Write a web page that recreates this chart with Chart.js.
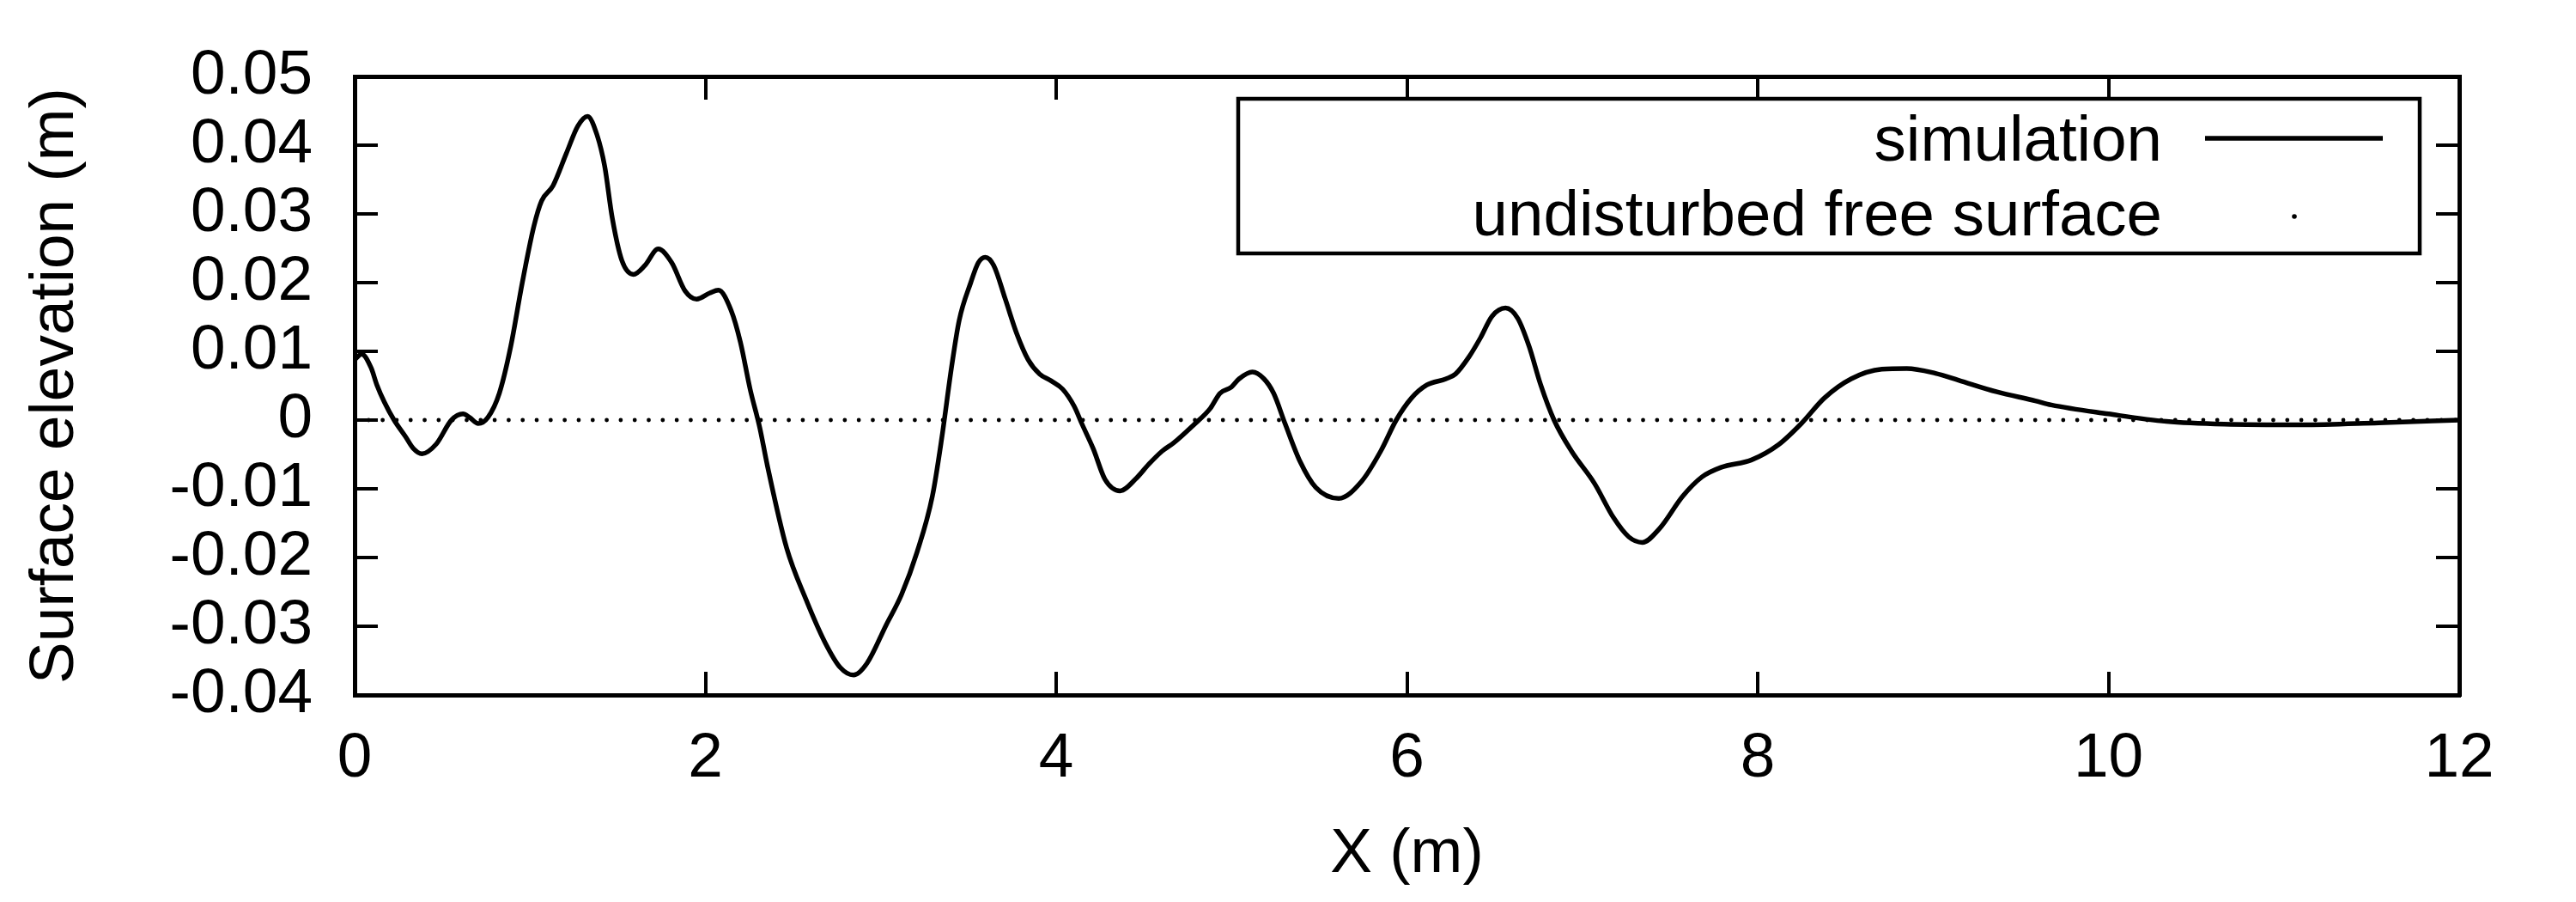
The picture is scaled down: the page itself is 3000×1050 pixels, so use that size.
<!DOCTYPE html>
<html>
<head>
<meta charset="utf-8">
<title>Surface elevation</title>
<script src="https://cdn.jsdelivr.net/npm/chart.js@4.4.1/dist/chart.umd.min.js"></script>
<style>
  html, body { margin: 0; padding: 0; background: #fff; }
  #fig { display: block; }
</style>
</head>
<body>
<canvas id="fig" width="3000" height="1050"></canvas>
<script>
// ----- data -----
const simX = [
  0, 0.04, 0.094, 0.127, 0.17, 0.225, 0.29, 0.334, 0.384, 0.465,
  0.552, 0.618, 0.655, 0.705, 0.76, 0.825, 0.89, 0.956, 1.022, 1.066,
  1.131, 1.207, 1.273, 1.328, 1.382, 1.426, 1.469, 1.524, 1.59, 1.655,
  1.731, 1.808, 1.884, 1.95, 2.026, 2.074, 2.146, 2.2, 2.255, 2.31,
  2.354, 2.463, 2.572, 2.681, 2.769, 2.845, 2.921, 3.031, 3.118, 3.207,
  3.294, 3.349, 3.403, 3.447, 3.513, 3.556, 3.596, 3.644, 3.71, 3.775,
  3.84, 3.906, 3.972, 4.037, 4.103, 4.146, 4.212, 4.278, 4.365, 4.452,
  4.529, 4.605, 4.671, 4.78, 4.879, 4.934, 4.999, 5.043, 5.119, 5.185,
  5.24, 5.305, 5.392, 5.48, 5.611, 5.742, 5.851, 5.939, 6.026, 6.113,
  6.223, 6.277, 6.354, 6.42, 6.485, 6.562, 6.632, 6.697, 6.763, 6.839,
  6.938, 7.069, 7.178, 7.265, 7.342, 7.44, 7.572, 7.681, 7.79, 7.965,
  8.118, 8.249, 8.38, 8.533, 8.708, 8.85, 9.014, 9.145, 9.364, 9.583,
  9.674, 10.0, 10.33, 10.66, 11.1, 11.54, 12
];
const simY = [
  0.0088, 0.0096, 0.0076, 0.0051, 0.0026, 0, -0.0024, -0.0041, -0.0049, -0.0035,
  0, 0.0009, 0.0004, -0.0005, 0.0004, 0.0039, 0.0107, 0.020, 0.0282, 0.0319,
  0.0341, 0.0388, 0.0428, 0.0442, 0.0415, 0.0369, 0.0294, 0.0232, 0.0212, 0.0225,
  0.0249, 0.0229, 0.0188, 0.0176, 0.0185, 0.0189, 0.016, 0.0113, 0.0045, -0.0011,
  -0.0067, -0.0186, -0.026, -0.0323, -0.036, -0.0371, -0.0354, -0.0298, -0.0254, -0.0192,
  -0.0111, -0.0024, 0.0076, 0.0145, 0.020, 0.0229, 0.0237, 0.0225, 0.0176, 0.0126,
  0.0088, 0.0067, 0.0057, 0.0045, 0.002, -0.0005, -0.0042, -0.0086, -0.0103, -0.0086,
  -0.0064, -0.0045, -0.0033, -0.0008, 0.0017, 0.0039, 0.0048, 0.006, 0.007, 0.006,
  0.0039, -0.0005, -0.0061, -0.0098, -0.0114, -0.0089, -0.0045, 0, 0.0032, 0.0051,
  0.006, 0.0067, 0.0092, 0.012, 0.0151, 0.0163, 0.0148, 0.0107, 0.0051, 0,
  -0.0045, -0.0092, -0.0142, -0.017, -0.0178, -0.0158, -0.0111, -0.0083, -0.0069, -0.0058,
  -0.0036, -0.0005, 0.0032, 0.006, 0.0074, 0.0075, 0.0068, 0.0058, 0.0041, 0.0028,
  0.0022, 0.0009, -0.0002, -0.0006, -0.0007, -0.0004, 0
];
// undisturbed free surface: flat at zero across the tank
const freeX = [0, 12];
const freeY = [0, 0];

const seriesNames = ['simulation', 'undisturbed free surface'];
const xTicks = [0, 2, 4, 6, 8, 10, 12];
const yTicks = [-0.04, -0.03, -0.02, -0.01, 0, 0.01, 0.02, 0.03, 0.04, 0.05];

const toPts = (xs, ys) => xs.map((x, i) => ({ x, y: ys[i] }));

// ----- style -----
const FONT = 'Liberation Sans, Arial, Helvetica, sans-serif';
const FS = 73;
const KEY_FS = 74.5;
Chart.defaults.font.family = FONT;
Chart.defaults.font.size = FS;
Chart.defaults.color = '#000';

const AX_W = 5;      // frame line width
const TICK_W = 4;    // tick mark width
const TICK = -27;    // negative = ticks point into the plot (gnuplot style)

// gnuplot-like key: text right aligned, sample to its right, boxed
const keyPlugin = {
  id: 'gnuKey',
  afterDatasetsDraw(chart){
    const ctx = chart.ctx;
    const ds = chart.data.datasets;
    ctx.save();
    ctx.strokeStyle = '#000';
    ctx.lineWidth = 4.5;
    ctx.strokeRect(1442, 115, 1376, 180);

    ctx.fillStyle = '#000';
    ctx.font = `${KEY_FS}px ${FONT}`;
    ctx.textAlign = 'right';
    ctx.textBaseline = 'alphabetic';
    ctx.fillText(ds[0].label, 2518, 187);
    ctx.fillText(ds[1].label, 2518, 274);

    // sample: solid line
    ctx.lineWidth = ds[0].borderWidth;
    ctx.beginPath();
    ctx.moveTo(2568, 161);
    ctx.lineTo(2775, 161);
    ctx.stroke();

    // sample: single dot
    ctx.beginPath();
    ctx.arc(2672, 252, 2.8, 0, Math.PI * 2);
    ctx.fill();
    ctx.restore();
  }
};

const fmt = v => String(Math.round(v * 100) / 100);

// keep label overhang from pushing the plot frame around
function fixSize(prop, size){
  return s => {
    s[prop] = size;
    s.paddingTop = 0; s.paddingBottom = 0;
    s.paddingLeft = 0; s.paddingRight = 0;
  };
}

const gridOpts = { drawOnChartArea: false, drawTicks: true, tickLength: TICK, color: '#000', lineWidth: TICK_W };
const borderOpts = { display: true, color: '#000', width: AX_W };

const chart = new Chart(document.getElementById('fig'), {
  type: 'line',
  data: {
    datasets: [
      {
        label: seriesNames[0],
        data: toPts(simX, simY),
        borderColor: '#000',
        borderWidth: 5.5,
        pointRadius: 0,
        cubicInterpolationMode: 'monotone',
        fill: false
      },
      {
        label: seriesNames[1],
        data: toPts(freeX, freeY),
        borderColor: '#000',
        borderWidth: 4.8,
        borderDash: [0.01, 16.3],
        borderCapStyle: 'round',
        pointRadius: 0,
        tension: 0,
        fill: false
      }
    ]
  },
  options: {
    responsive: false,
    animation: false,
    devicePixelRatio: 1,
    layout: { padding: { top: 89, right: 136, bottom: 0, left: 0 } },
    plugins: {
      legend: { display: false },
      tooltip: { enabled: false }
    },
    scales: {
      x: {
        type: 'linear',
        position: 'bottom',
        min: 0, max: 12,
        afterBuildTicks: s => { s.ticks = xTicks.map(v => ({ value: v })); },
        afterFit: fixSize('height', 241),
        ticks: { padding: 58, maxRotation: 0, autoSkip: false, callback: v => fmt(v) },
        grid: gridOpts,
        border: borderOpts,
        title: { display: true, text: 'X (m)', padding: { top: 0, bottom: 11 }, font: { size: FS } }
      },
      x2: {
        type: 'linear',
        position: 'top',
        display: true,
        min: 0, max: 12,
        afterBuildTicks: s => { s.ticks = xTicks.map(v => ({ value: v })); },
        afterFit: fixSize('height', 0),
        ticks: { display: false, autoSkip: false },
        grid: gridOpts,
        border: borderOpts
      },
      y: {
        type: 'linear',
        position: 'left',
        min: -0.04, max: 0.05,
        afterBuildTicks: s => { s.ticks = yTicks.map(v => ({ value: v })); },
        afterFit: fixSize('width', 413),
        ticks: { padding: 76, autoSkip: false, callback: v => fmt(v) },
        grid: gridOpts,
        border: borderOpts,
        title: { display: true, text: 'Surface elevation (m)', padding: { top: 21, bottom: 0 }, font: { size: FS } }
      },
      y2: {
        type: 'linear',
        position: 'right',
        display: true,
        min: -0.04, max: 0.05,
        afterBuildTicks: s => { s.ticks = yTicks.map(v => ({ value: v })); },
        afterFit: fixSize('width', 0),
        ticks: { display: false, autoSkip: false },
        grid: gridOpts,
        border: borderOpts
      }
    }
  },
  plugins: [keyPlugin]
});
</script>
</body>
</html>
